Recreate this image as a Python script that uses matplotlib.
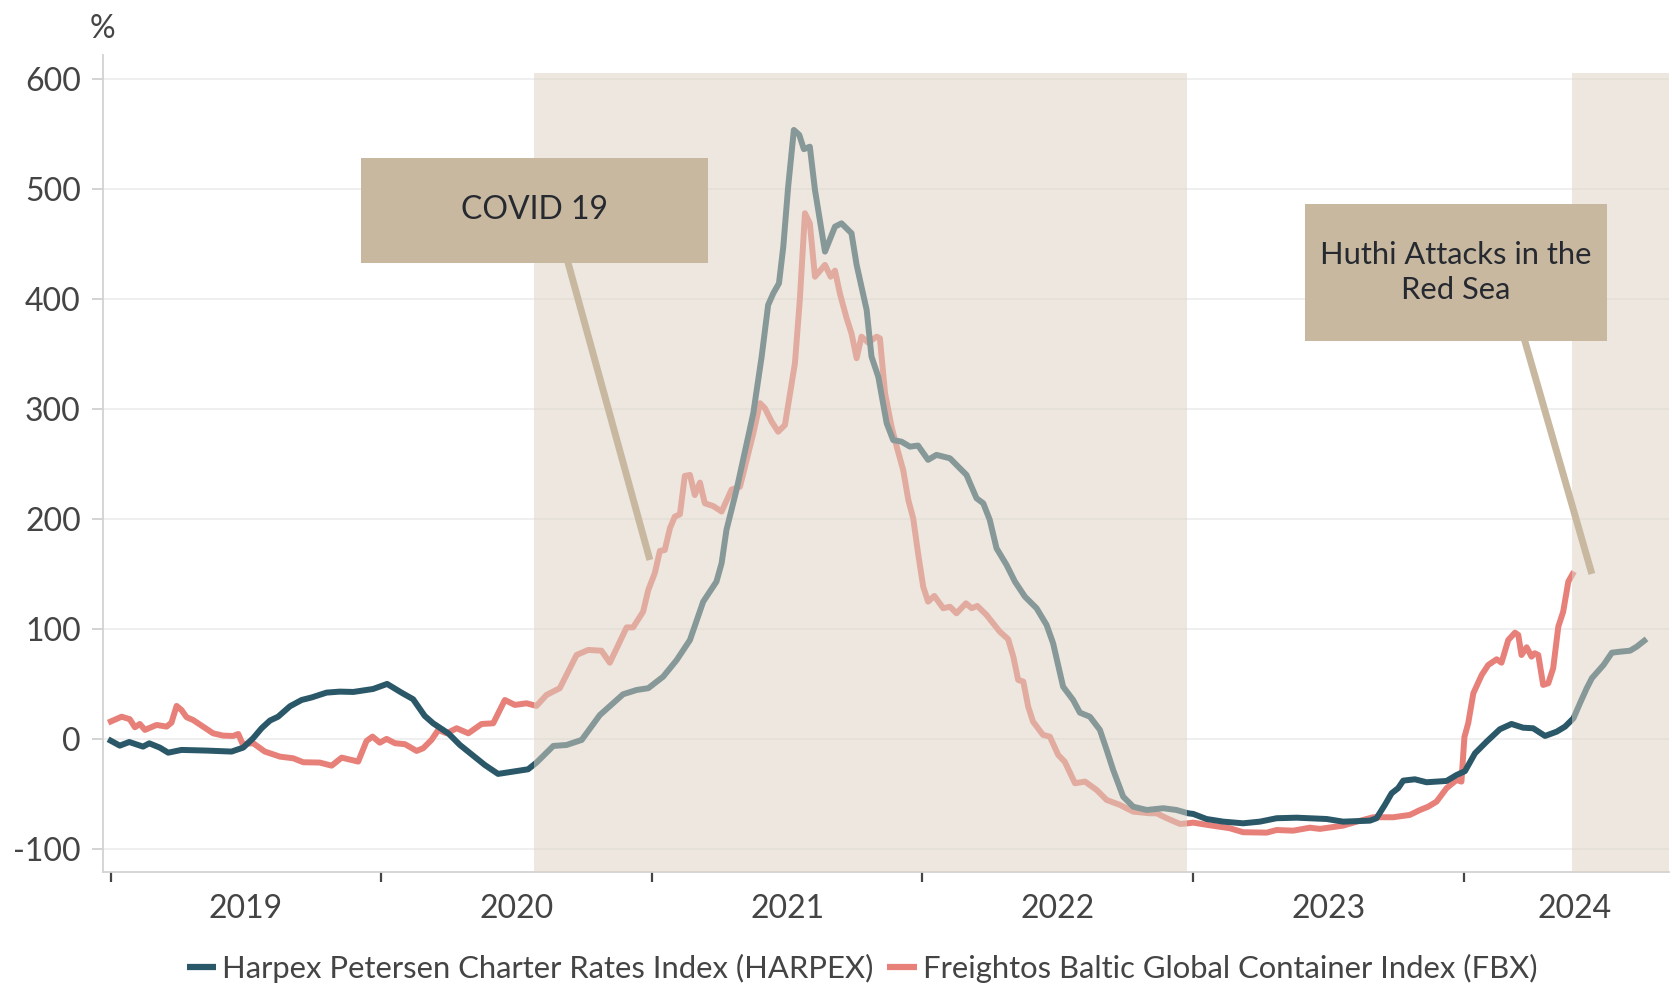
import matplotlib
matplotlib.use('Agg')
import matplotlib.pyplot as plt
from matplotlib.patches import Rectangle
from matplotlib.lines import Line2D

plt.rcParams['font.family'] = ['Lato', 'DejaVu Sans']
plt.rcParams['axes.unicode_minus'] = False

# ---------------- data (decimal years, % change) ----------------
harpex_x = [2018.491, 2018.534, 2018.569, 2018.620, 2018.643, 2018.682, 2018.713, 2018.762, 2018.855, 2018.947,
            2018.990, 2019.027, 2019.058, 2019.089, 2019.119, 2019.163, 2019.206, 2019.243, 2019.298, 2019.347,
            2019.397, 2019.470, 2019.522, 2019.575, 2019.618, 2019.661, 2019.692, 2019.748, 2019.791, 2019.840,
            2019.883, 2019.932, 2019.988, 2020.043, 2020.074, 2020.136, 2020.185, 2020.241, 2020.308, 2020.394,
            2020.444, 2020.487, 2020.542, 2020.592, 2020.641, 2020.690, 2020.739, 2020.758, 2020.776, 2020.813,
            2020.875, 2020.906, 2020.930, 2020.949, 2020.970, 2020.986, 2021.004, 2021.025, 2021.045, 2021.062,
            2021.084, 2021.103, 2021.140, 2021.177, 2021.201, 2021.238, 2021.257, 2021.294, 2021.312, 2021.337,
            2021.368, 2021.392, 2021.423, 2021.454, 2021.484, 2021.521, 2021.552, 2021.602, 2021.626, 2021.663,
            2021.700, 2021.725, 2021.749, 2021.774, 2021.811, 2021.842, 2021.879, 2021.922, 2021.959, 2021.983,
            2022.020, 2022.057, 2022.082, 2022.119, 2022.156, 2022.181, 2022.205, 2022.242, 2022.279, 2022.329,
            2022.390, 2022.439, 2022.482, 2022.501, 2022.550, 2022.612, 2022.685, 2022.747, 2022.809, 2022.883,
            2022.994, 2023.055, 2023.154, 2023.178, 2023.209, 2023.234, 2023.258, 2023.277, 2023.320, 2023.363,
            2023.437, 2023.474, 2023.505, 2023.542, 2023.585, 2023.634, 2023.677, 2023.720, 2023.757, 2023.801,
            2023.844, 2023.875, 2023.906, 2023.930, 2023.955, 2023.974, 2024.017, 2024.048, 2024.078, 2024.115,
            2024.140, 2024.176]
harpex_y = [0, -5.8, -2.5, -6.7, -3.7, -7.6, -12.2, -9.7, -10.3, -11.2,
            -7.6, 1, 10, 17, 20.5, 30, 35.7, 38, 42.4, 43.3,
            43, 45.7, 50.3, 42.4, 36.4, 21.2, 14.5, 5.4, -5.2, -14.9,
            -23.4, -31.5, -29.4, -27.3, -21.2, -6.1, -5.2, -0.6, 22, 40.9,
            44.8, 46.4, 56.9, 72, 90.2, 125.1, 143.3, 160, 190.3, 226.6,
            296.2, 347.8, 394.8, 405.4, 414.5, 447.8, 502.4, 553.9, 549.4, 536.4,
            538.7, 499.4, 443.3, 466, 469, 460, 431.2, 390.3, 347.8, 329.6,
            287.3, 272, 270.5, 266, 267, 254, 258.5, 255.4, 249.4, 240.3,
            219.1, 214.5, 199.4, 173.6, 158.5, 143.3, 129.6, 119.1, 103.9, 87.3,
            47.8, 35.7, 24.2, 20.5, 8.5, -9.7, -27.9, -52.2, -61.3, -64.3,
            -62.7, -64.3, -67.3, -67.9, -72.5, -74.9, -76.4, -74.9, -71.8, -71.3,
            -72.5, -74.9, -74, -71.8, -59.7, -49.1, -44.5, -37.6, -36.4, -39.1,
            -37.9, -32.5, -29, -12.8, -2.2, 9.1, 13.9, 10.5, 10, 3,
            6.9, 11.5, 19.1, 32.7, 46.4, 55.5, 67.5, 78.7, 79.6, 80.5,
            84.2, 91.2]

fbx_x = [2018.491, 2018.541, 2018.571, 2018.590, 2018.608, 2018.627, 2018.670, 2018.707, 2018.725, 2018.744,
         2018.762, 2018.781, 2018.805, 2018.842, 2018.879, 2018.916, 2018.953, 2018.972, 2018.988, 2019.027,
         2019.070, 2019.126, 2019.175, 2019.212, 2019.273, 2019.317, 2019.354, 2019.415, 2019.446, 2019.468,
         2019.495, 2019.520, 2019.551, 2019.588, 2019.631, 2019.655, 2019.686, 2019.711, 2019.742, 2019.779,
         2019.822, 2019.871, 2019.914, 2019.957, 2019.994, 2020.037, 2020.074, 2020.111, 2020.160, 2020.222,
         2020.265, 2020.314, 2020.345, 2020.407, 2020.431, 2020.468, 2020.487, 2020.511, 2020.530, 2020.548,
         2020.567, 2020.585, 2020.604, 2020.622, 2020.641, 2020.659, 2020.678, 2020.696, 2020.727, 2020.758,
         2020.795, 2020.826, 2020.875, 2020.900, 2020.918, 2020.943, 2020.967, 2020.992, 2021.029, 2021.047,
         2021.066, 2021.084, 2021.103, 2021.140, 2021.161, 2021.177, 2021.195, 2021.220, 2021.238, 2021.257,
         2021.275, 2021.300, 2021.331, 2021.343, 2021.362, 2021.386, 2021.405, 2021.429, 2021.448, 2021.466,
         2021.484, 2021.503, 2021.521, 2021.544, 2021.577, 2021.602, 2021.626, 2021.661, 2021.682, 2021.703,
         2021.737, 2021.786, 2021.817, 2021.836, 2021.854, 2021.873, 2021.891, 2021.909, 2021.946, 2021.971,
         2022.002, 2022.026, 2022.064, 2022.101, 2022.144, 2022.181, 2022.230, 2022.279, 2022.341, 2022.366,
         2022.403, 2022.452, 2022.482, 2022.501, 2022.562, 2022.636, 2022.685, 2022.772, 2022.809, 2022.870,
         2022.932, 2022.969, 2023.055, 2023.105, 2023.166, 2023.240, 2023.301, 2023.339, 2023.369, 2023.400,
         2023.437, 2023.474, 2023.492, 2023.503, 2023.517, 2023.536, 2023.567, 2023.591, 2023.622, 2023.640,
         2023.665, 2023.690, 2023.702, 2023.714, 2023.733, 2023.751, 2023.763, 2023.776, 2023.794, 2023.813,
         2023.831, 2023.850, 2023.868, 2023.887, 2023.908]
fbx_y = [15.1, 20.5, 18.2, 10.9, 13.9, 8.5, 13, 11.5, 15.1, 30.3,
         26.6, 20, 17.5, 11.5, 5.4, 3.3, 3, 4.8, -4.3, -3.6,
         -11.2, -15.8, -17.3, -20.9, -21.2, -24, -16.7, -20.3, -1.5, 2.4,
         -3.1, 0.3, -3.6, -4.5, -10.6, -8.2, -0.6, 8.5, 5.4, 10,
         5.4, 13.9, 14.5, 35.7, 31.2, 32.7, 30.3, 40.3, 46.4, 76.6,
         81.2, 80.5, 69.6, 101.7, 101.7, 116, 135.7, 150.9, 171.2, 172,
         191.8, 202.4, 204.5, 239.4, 240.3, 222, 233.3, 214.5, 212, 207,
         227, 229.6, 278, 305.5, 300.9, 288.7, 279.6, 285.7, 341.8, 399.4,
         478.2, 469, 420.5, 431.2, 420.5, 426, 405.4, 382.7, 369, 346.4,
         366, 360.6, 366, 364.5, 314.5, 284.2, 266, 244.8, 217.5, 200.9,
         169.1, 138.7, 125.1, 130.3, 119.1, 120.5, 114.5, 123.6, 119.1, 121.2,
         113, 97.8, 90.9, 75.1, 53.9, 52.4, 29.6, 16, 3.9, 2.4,
         -14.3, -20.4, -40, -38.5, -46.1, -55.2, -59.7, -65.8, -67.3, -67.3,
         -71.8, -77, -76.4, -75.8, -78.2, -80.9, -84.5, -84.9, -82.5, -83.1,
         -80.4, -81.5, -78.5, -74.9, -70.9, -70.9, -68.8, -64.3, -61.3, -56.7,
         -44.5, -37, -38.5, 2, 14.5, 41.8, 58.5, 67.5, 72.7, 69.6,
         90.2, 96.9, 94.8, 76.6, 83.6, 75.1, 78.2, 76.6, 49.4, 50.9,
         64.5, 102.4, 116, 143.3, 152.4]

series_labels = ['Harpex Petersen Charter Rates Index (HARPEX)',
                 'Freightos Baltic Global Container Index (FBX)']
year_labels = ['2019', '2020', '2021', '2022', '2023', '2024']
year_positions = [2019, 2020, 2021, 2022, 2023, 2023.91]
year_boundaries = [2018.5, 2019.5, 2020.5, 2021.5, 2022.5, 2023.5]
y_ticks = [-100, 0, 100, 200, 300, 400, 500, 600]
y_tick_labels = ['-100', '0', '100', '200', '300', '400', '500', '600']
shade_periods = [(2020.065, 2022.477), (2023.900, 2024.259)]
annotations = ['COVID 19', 'Huthi Attacks in the\nRed Sea']

# ---------------- style ----------------
HARPEX_COLOR = '#2a5868'
FBX_COLOR = '#e8807a'
SHADE_COLOR = '#ddd3c4'
BOX_COLOR = '#c8b8a0'
TEXT_COLOR = '#444444'
LINE_W = 4.3

fig = plt.figure(figsize=(16.72, 9.9), dpi=100)
ax = fig.add_axes([0.0616, 0.1195, 0.9366, 0.8249])
x_lo, x_hi = 2018.472, 2024.259
y_lo, y_hi = -120.4, 622
ax.set_xlim(x_lo, x_hi)
ax.set_ylim(y_lo, y_hi)

ax.plot(fbx_x, fbx_y, color=FBX_COLOR, lw=LINE_W, zorder=2, solid_joinstyle='round', solid_capstyle='butt')
ax.plot(harpex_x, harpex_y, color=HARPEX_COLOR, lw=LINE_W, zorder=2.1, solid_joinstyle='round', solid_capstyle='butt')

shade_top = 606
for s0, s1 in shade_periods:
    ax.axvspan(s0, s1, ymin=0, ymax=(shade_top - y_lo) / (y_hi - y_lo),
               color=SHADE_COLOR, alpha=0.525, lw=0, zorder=3)

# grid & axes
ax.set_yticks(y_ticks)
ax.set_yticklabels(y_tick_labels)
ax.yaxis.grid(True, color='#ebebeb', lw=1.1)
ax.set_axisbelow(True)
for side in ['top', 'right']:
    ax.spines[side].set_visible(False)
for side in ['left', 'bottom']:
    ax.spines[side].set_color('#d2d2d2')
    ax.spines[side].set_linewidth(1.3)
ax.tick_params(axis='y', length=8, width=1.1, color='#c8c8c8', pad=8,
               labelsize=23, labelcolor=TEXT_COLOR)
ax.set_xticks(year_boundaries)
ax.set_xticklabels([])
ax.set_xticks(year_positions, minor=True)
ax.set_xticklabels(year_labels, minor=True)
ax.tick_params(axis='x', which='major', length=7, width=1.6, color='#444444')
ax.tick_params(axis='x', which='minor', length=0, pad=16, labelsize=23, labelcolor=TEXT_COLOR)

fig.text(102 / 1672, 1 - 29 / 990, '%', ha='center', va='center', fontsize=23, color=TEXT_COLOR)

# annotation boxes with connectors
boxes = [((2019.425, 433.3), 2020.706 - 2019.425, 528.2 - 433.3),
         ((2022.914, 362.4), 2024.029 - 2022.914, 486.6 - 362.4)]
connectors = [((2020.137, 2020.493), (481, 163)),
              ((2023.653, 2023.974), (424.8, 150.3))]
box_fontsizes = [23, 22.2]
for (xy, w, h), (cx, cy), txt, fs in zip(boxes, connectors, annotations, box_fontsizes):
    ax.plot(cx, cy, color=BOX_COLOR, lw=5, solid_capstyle='butt', zorder=4)
    ax.add_patch(Rectangle(xy, w, h, facecolor=BOX_COLOR, edgecolor='none', zorder=5))
    ax.text(xy[0] + w / 2, xy[1] + h / 2, txt, ha='center', va='center',
            fontsize=fs, color='#262a30', zorder=6, linespacing=1.3)

handles = [Line2D([], [], color=HARPEX_COLOR, lw=4.5, solid_capstyle='butt'),
           Line2D([], [], color=FBX_COLOR, lw=4.5, solid_capstyle='butt')]
leg = fig.legend(handles, series_labels, loc='center', bbox_to_anchor=(0.5156, 0.022),
                 ncol=2, frameon=False, fontsize=22.3, handlelength=0.95,
                 handletextpad=0.2, columnspacing=0.45, labelcolor=TEXT_COLOR,
                 borderpad=0, borderaxespad=0)

fig.savefig('out.png', dpi=100)
